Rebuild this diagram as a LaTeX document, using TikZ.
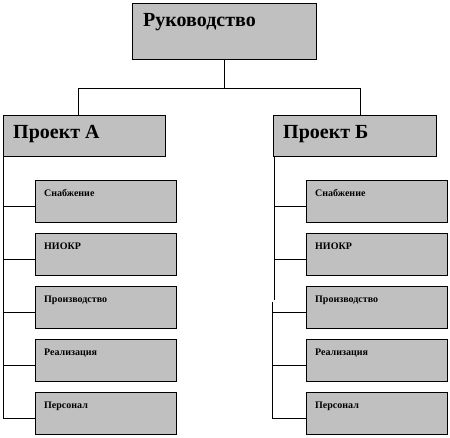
\documentclass[tikz,border=0pt]{standalone}
\usepackage{fontspec}
\setmainfont{Liberation Serif}
\usetikzlibrary{calc}
\begin{document}
\begin{tikzpicture}[x=1pt,y=-1pt,
  box/.style={draw=black,line width=1.2pt,fill={rgb,255:red,192;green,192;blue,192},inner sep=0pt,anchor=north west},
  bigtxt/.style={font=\bfseries\fontsize{20}{22}\selectfont,inner sep=0pt,anchor=north west,text height=13pt,text depth=0pt},
  smalltxt/.style={font=\bfseries\fontsize{10}{12}\selectfont,inner sep=0pt,anchor=north west,text height=7pt,text depth=0pt},
  conn/.style={draw=black,line width=0.9pt}]
\useasboundingbox (0,0) rectangle (450,438);
% boxes
\node[box,minimum width=184pt,minimum height=56pt] (ruk) at (132,3) {};
\node[bigtxt] (rukt) at (143,13) {Руководство};
\node[box,minimum width=162pt,minimum height=41pt] (pa) at (3,115) {};
\node[bigtxt] (pat) at (13,125) {Проект А};
\node[box,minimum width=163pt,minimum height=41pt] (pb) at (273,115) {};
\node[bigtxt] (pbt) at (283,125) {Проект Б};
\foreach \i/\t in {1/Снабжение,2/НИОКР,3/Производство,4/Реализация,5/Персонал}{
  \pgfmathsetmacro{\yy}{180+53*(\i-1)}
  \node[box,minimum width=141pt,minimum height=42pt] (a\i) at (35,\yy) {};
  \node[smalltxt] (at\i) at (44,\yy+9) {\t};
  \node[box,minimum width=141pt,minimum height=42pt] (b\i) at (306,\yy) {};
  \node[smalltxt] (bt\i) at (315,\yy+9) {\t};
}
% connectors
\coordinate (j) at (224,88);
\coordinate (ja) at (78,115);
\coordinate (jb) at (360,115);
\draw[conn] (ruk.south -| j) -- (j);
\draw[conn] (ja) -- (ja |- j) -- (jb |- j) -- (jb);
% left spine
\coordinate (la) at (3,156);
\coordinate (lb) at (3,418);
\draw[conn] (la) -- (lb);
\foreach \i in {1,...,5}{
  \draw[conn] ($(a\i.north west)+(0,26)$) -- +(-32,0);
}
% right spine
\coordinate (ra) at (274,156);
\coordinate (rb) at (274,300);
\coordinate (rc) at (272,302);
\coordinate (rd) at (272,418);
\draw[conn] (ra) -- (rb);
\draw[conn] (rc) -- (rd);
\draw[conn] ($(b1.north west)+(0,26)$) -- +(-32,0);
\draw[conn] ($(b2.north west)+(0,26)$) -- +(-32,0);
\draw[conn] ($(b3.north west)+(0,26)$) -- +(-33,0);
\draw[conn] ($(b4.north west)+(0,26)$) -- +(-34,0);
\draw[conn] ($(b5.north west)+(0,26)$) -- +(-34,0);
\end{tikzpicture}
\end{document}
